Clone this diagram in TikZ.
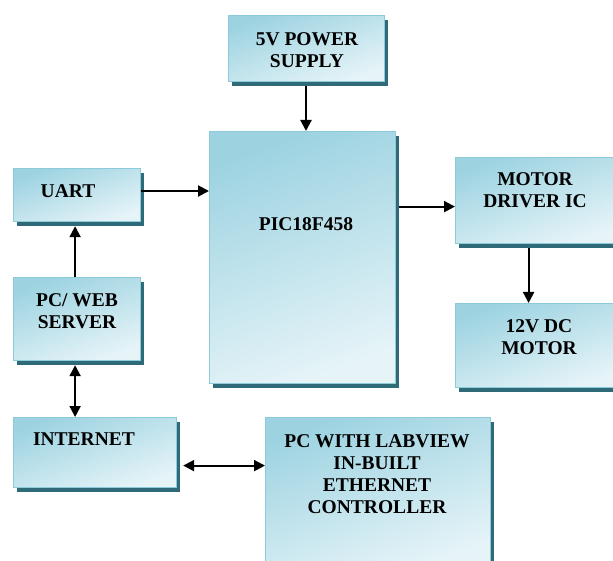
\documentclass[tikz,border=0pt]{standalone}
\usepackage{fontspec}
\setmainfont{Liberation Serif}
\usepackage{tikz}
\usetikzlibrary{arrows.meta, positioning, shadows}
\definecolor{boxtop}{HTML}{9DD3E1}
\definecolor{boxlow}{HTML}{E6F4F8}
\definecolor{boxedge}{HTML}{8DCBDA}
\definecolor{shadeteal}{HTML}{2E6A78}

\tikzset{
  blk/.style={draw=boxedge, line width=1.2pt, top color=boxtop, bottom color=boxlow,
    shading angle=20, anchor=north west, inner sep=0pt,
    drop shadow={shadow xshift=3pt, shadow yshift=-4pt, fill=shadeteal, opacity=1}},
  lbl/.style={font=\bfseries\fontsize{19.5}{22}\selectfont, align=center, inner sep=0pt},
  arr/.style={line width=2pt, -{Triangle[length=11pt, width=11pt]}},
  darr/.style={line width=2pt, {Triangle[length=11pt, width=11pt]}-{Triangle[length=11pt, width=11pt]}}
}

\begin{document}
\begin{tikzpicture}[x=1pt, y=-1pt]
    \useasboundingbox (0,0) rectangle (613,561);

    % blocks
    \node[blk, minimum width=156pt, minimum height=66pt] (supply) at (228,15) {};
    \node[blk, minimum width=186pt, minimum height=252pt] (pic) at (209,131) {};
    \node[blk, minimum width=127pt, minimum height=53pt] (uart) at (13,168) {};
    \node[blk, minimum width=127pt, minimum height=83pt] (web) at (13,277) {};
    \node[blk, minimum width=163pt, minimum height=70pt] (net) at (13,417) {};
    \node[blk, minimum width=225pt, minimum height=150pt] (lab) at (265,417) {};
    \node[blk, minimum width=162pt, minimum height=86pt] (drv) at (455,157) {};
    \node[blk, minimum width=162pt, minimum height=84pt] (motor) at (455,303) {};

    % texts
    \node[lbl] (supply-t) at (307,50) {5V POWER\\SUPPLY};
    \node[lbl] (pic-t) at (306,224) {PIC18F458};
    \node[lbl] (uart-t) at (68,191) {UART};
    \node[lbl] (web-t) at (77,311) {PC/ WEB\\SERVER};
    \node[lbl] (net-t) at (84,439) {INTERNET};
    \node[lbl] (lab-t) at (377,474) {PC WITH LABVIEW\\IN-BUILT\\ETHERNET\\CONTROLLER};
    \node[lbl] (drv-t) at (535,190) {MOTOR\\DRIVER IC};
    \node[lbl] (motor-t) at (539,337) {12V DC\\MOTOR};

    % connectors
    \coordinate (s1) at ([yshift=-4pt]supply.south -| pic-t);
    \draw[arr] (s1) -- (s1 |- pic.north);
    \draw[arr] (uart.east |- uart-t) -- (uart-t -| pic.west);
    \coordinate (p1) at ([xshift=3pt, yshift=51pt]pic.east);
    \draw[arr] (p1) -- (p1 -| drv.west);
    \coordinate (d1) at ([xshift=-8pt, yshift=-4pt]drv.south);
    \draw[arr] (d1) -- (d1 |- motor.north);
    \coordinate (w1) at ([xshift=-2pt]web.north);
    \coordinate (u1) at ([yshift=-4pt]uart.south);
    \draw[arr] (w1) -- (w1 |- u1);
    \coordinate (w2) at ([xshift=-2pt, yshift=-4pt]web.south);
    \draw[darr] (w2) -- (w2 |- net.north);
    \coordinate (n1) at ([xshift=6pt, yshift=-13pt]net.east);
    \draw[darr] (n1) -- (n1 -| lab.west);
\end{tikzpicture}
\end{document}
